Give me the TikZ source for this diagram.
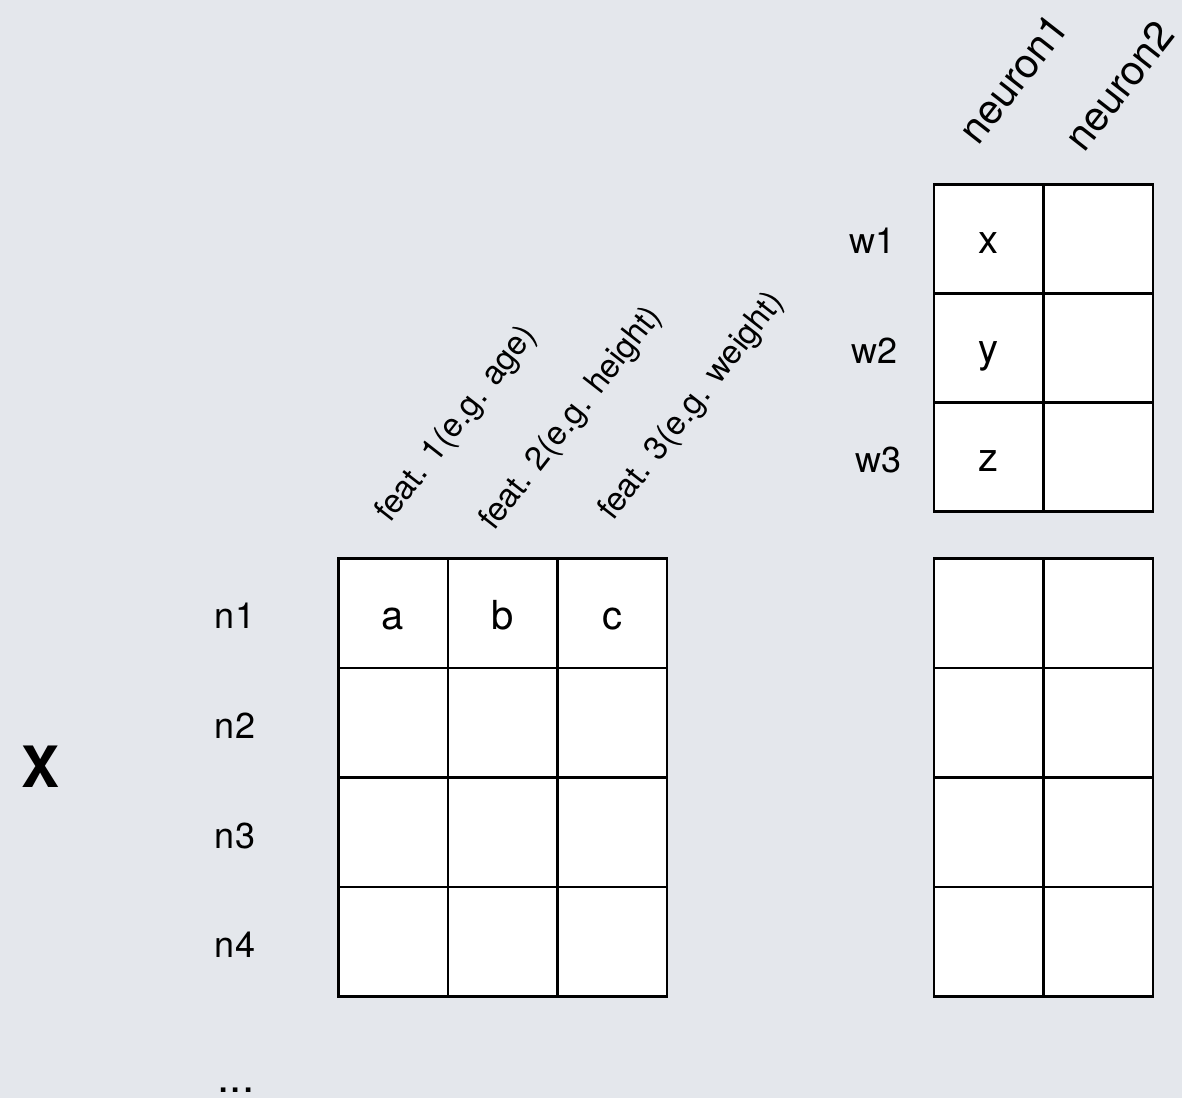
\documentclass[tikz,border=0pt]{standalone}
\usepackage{fontspec}
\setmainfont{TeX Gyre Heros}
\definecolor{bg}{RGB}{228,231,236}
\begin{document}
\begin{tikzpicture}[x=1pt,y=-1pt,
  cell/.style={draw=black, fill=white, line width=2.5pt, minimum width=109.5pt, minimum height=109.5pt, inner sep=0pt},
  lbl/.style={anchor=base, inner sep=0pt, font=\fontsize{36}{40}\selectfont},
  celltext/.style={anchor=base, inner sep=0pt, font=\fontsize{40}{44}\selectfont},
  rot/.style={anchor=base west, rotate=52, inner sep=0pt},
  featfont/.style={font=\fontsize{33}{36}\selectfont},
  neurfont/.style={font=\fontsize{41}{44}\selectfont}]
\fill[bg] (0,0) rectangle (1182,1098);
\useasboundingbox (0,0) rectangle (1182,1098);

% left grid X
\foreach \c/\x in {1/393,2/502.5,3/612}
  \foreach \r/\y in {1/613,2/722.5,3/832,4/941.5}
    \node[cell] (A-\r-\c) at (\x,\y) {};
% right lower grid
\foreach \c/\x in {1/988.5,2/1098}
  \foreach \r/\y in {1/613,2/722.5,3/832,4/941.5}
    \node[cell] (B-\r-\c) at (\x,\y) {};
% upper right grid W
\foreach \c/\x in {1/988.5,2/1098}
  \foreach \r/\y in {1/239,2/348,3/457}
    \node[cell, minimum height=109pt] (W-\r-\c) at (\x,\y) {};

% cell contents
\node[celltext] (ta) at ([yshift=-16pt]A-1-1.center) {a};
\node[celltext] (tb) at ([yshift=-16pt]A-1-2.center) {b};
\node[celltext] (tc) at ([yshift=-16pt]A-1-3.center) {c};
\node[celltext] (tx) at ([yshift=-14pt]W-1-1.center) {x};
\node[celltext] (ty) at ([yshift=-14pt]W-2-1.center) {y};
\node[celltext] (tz) at ([yshift=-14pt]W-3-1.center) {z};

% row labels
\node[lbl] (n1) at (235,628) {n1};
\node[lbl] (n2) at (235,738) {n2};
\node[lbl] (n3) at (235,848) {n3};
\node[lbl] (n4) at (235,957) {n4};
\node[lbl, text depth=0pt, font=\fontsize{44}{48}\selectfont] (dots) at (236,1092) {...};
\node[lbl] (w1) at (872,253) {w1};
\node[lbl] (w2) at (874,363) {w2};
\node[lbl] (w3) at (878,472) {w3};
\node[lbl, font=\bfseries\fontsize{57}{60}\selectfont] (X) at (41,787) {X};

% column labels
\node[rot, featfont] (f1) at (390,524) {feat. 1(e.g. age)};
\node[rot, featfont] (f2) at (494,532) {feat. 2(e.g. height)};
\node[rot, featfont] (f3) at (613,522) {feat. 3(e.g. weight)};
\node[rot, neurfont] (nr1) at (978,147) {neuron1};
\node[rot, neurfont] (nr2) at (1084,154) {neuron2};
\end{tikzpicture}
\end{document}
